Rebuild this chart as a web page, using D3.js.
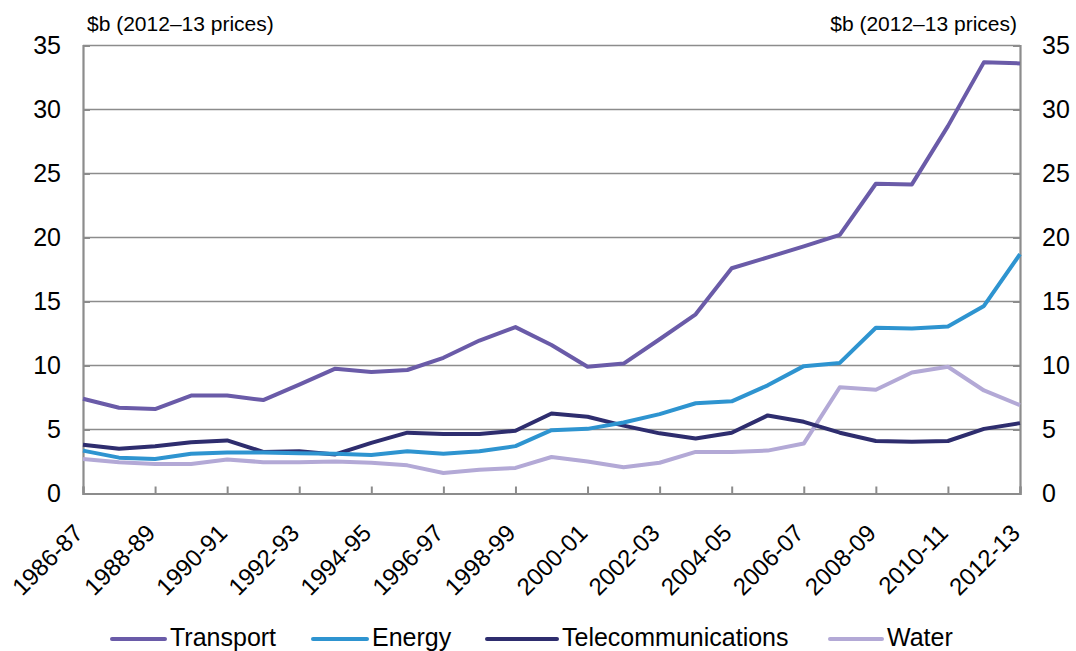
<!DOCTYPE html>
<html>
<head>
<meta charset="utf-8">
<script src="https://cdn.jsdelivr.net/npm/d3@7"></script>
<style>
  html, body { margin: 0; padding: 0; background: #fff; }
  svg { display: block; font-family: "Liberation Sans", Arial, sans-serif; }
</style>
</head>
<body>
<svg id="chart" width="1076" height="651"></svg>
<script>
const years = ["1986-87","1987-88","1988-89","1989-90","1990-91","1991-92","1992-93","1993-94","1994-95","1995-96","1996-97","1997-98","1998-99","1999-00","2000-01","2001-02","2002-03","2003-04","2004-05","2005-06","2006-07","2007-08","2008-09","2009-10","2010-11","2011-12","2012-13"];
const transport = [7.4,6.7,6.6,7.65,7.65,7.3,8.5,9.75,9.5,9.65,10.6,11.95,13.0,11.6,9.9,10.15,12.05,14.0,17.6,18.45,19.3,20.2,24.2,24.15,28.7,33.7,33.6];
const energy = [3.35,2.8,2.7,3.1,3.2,3.2,3.15,3.1,3.0,3.3,3.1,3.3,3.7,4.95,5.05,5.55,6.2,7.05,7.2,8.45,9.95,10.2,12.95,12.9,13.05,14.65,18.7];
const telecom = [3.8,3.5,3.7,4.0,4.15,3.25,3.3,3.05,3.95,4.75,4.65,4.65,4.9,6.25,6.0,5.3,4.7,4.3,4.75,6.1,5.6,4.75,4.1,4.05,4.1,5.05,5.5];
const water = [2.7,2.45,2.3,2.3,2.65,2.45,2.45,2.5,2.4,2.2,1.6,1.85,2.0,2.85,2.5,2.05,2.4,3.25,3.25,3.35,3.9,8.3,8.1,9.45,9.9,8.05,6.9];
const yTicks = [0,5,10,15,20,25,30,35];
const xTickLabels = years.filter((d,i) => i % 2 === 0);
const seriesNames = ["Transport","Energy","Telecommunications","Water"];
const seriesColors = ["#6a5ba8","#2e94d0","#2e2d6e","#b3a9d6"];
const seriesValues = [transport, energy, telecom, water];
const unitLabel = "$b (2012\u201313 prices)";

const svg = d3.select("#chart");
const L = 83, R = 1020, T = 45.5, B = 493.5;
const x = d3.scalePoint().domain(years).range([L, R]);
const y = d3.scaleLinear().domain([0, 35]).range([B, T]);
const gridColor = "#8c8c8c";

// gridlines
svg.append("g").selectAll("line").data(yTicks.filter(d => d > 0)).join("line")
  .attr("x1", L).attr("x2", R)
  .attr("y1", d => y(d)).attr("y2", d => y(d))
  .attr("stroke", gridColor).attr("stroke-width", 1.6);

// left axis
const leftAxis = d3.axisLeft(y).tickValues(yTicks).tickSize(-7).tickPadding(22).tickFormat(d3.format("d"));
const gl = svg.append("g").attr("transform", `translate(${L},0)`).call(leftAxis);
// right axis
const rightAxis = d3.axisRight(y).tickValues(yTicks).tickSize(-7).tickPadding(22).tickFormat(d3.format("d"));
const gr = svg.append("g").attr("transform", `translate(${R},0)`).call(rightAxis);
[gl, gr].forEach(g => {
  g.select(".domain").attr("stroke", gridColor).attr("stroke-width", 2.2);
  g.selectAll(".tick line").attr("stroke", gridColor).attr("stroke-width", 2);
  g.selectAll(".tick text").attr("fill", "#000").attr("font-size", 25)
    .attr("font-family", "Liberation Sans, Arial, sans-serif");
});

// bottom axis
const bottomAxis = d3.axisBottom(x).tickValues(xTickLabels).tickSize(-7).tickFormat("");
const gb = svg.append("g").attr("transform", `translate(0,${B})`).call(bottomAxis);
gb.select(".domain").attr("stroke", gridColor).attr("stroke-width", 2.2);
gb.selectAll(".tick line").attr("stroke", gridColor).attr("stroke-width", 2);
gb.selectAll(".tick").append("text")
  .attr("fill", "#000").attr("font-size", 24)
  .attr("font-family", "Liberation Sans, Arial, sans-serif")
  .attr("text-anchor", "end")
  .attr("transform", "translate(1,41) rotate(-45)")
  .text(d => d);

// lines (legend order reversed so Transport is drawn on top)
const line = d3.line().x((d, i) => x(years[i])).y(d => y(d));
[3,2,1,0].forEach(k => {
  svg.append("path").datum(seriesValues[k])
    .attr("d", line)
    .attr("fill", "none")
    .attr("stroke", seriesColors[k])
    .attr("stroke-width", 4)
    .attr("stroke-linejoin", "round");
});

// unit labels
svg.append("text").attr("x", 87).attr("y", 31).attr("font-size", 21).attr("fill", "#000").text(unitLabel);
svg.append("text").attr("x", 1017).attr("y", 31).attr("font-size", 21).attr("text-anchor", "end").attr("fill", "#000").text(unitLabel);

// legend
const legendLineX = [112, 313, 487, 830];
const legendLineW = [53, 54, 70, 52];
const legendY = 639;
seriesNames.forEach((n, k) => {
  svg.append("line")
    .attr("x1", legendLineX[k]).attr("x2", legendLineX[k] + legendLineW[k])
    .attr("y1", legendY).attr("y2", legendY)
    .attr("stroke", seriesColors[k]).attr("stroke-width", 4).attr("stroke-linecap", "round");
  svg.append("text")
    .attr("x", legendLineX[k] + legendLineW[k] + 5).attr("y", 646)
    .attr("font-size", 25).attr("fill", "#000").text(n);
});
</script>
</body>
</html>
